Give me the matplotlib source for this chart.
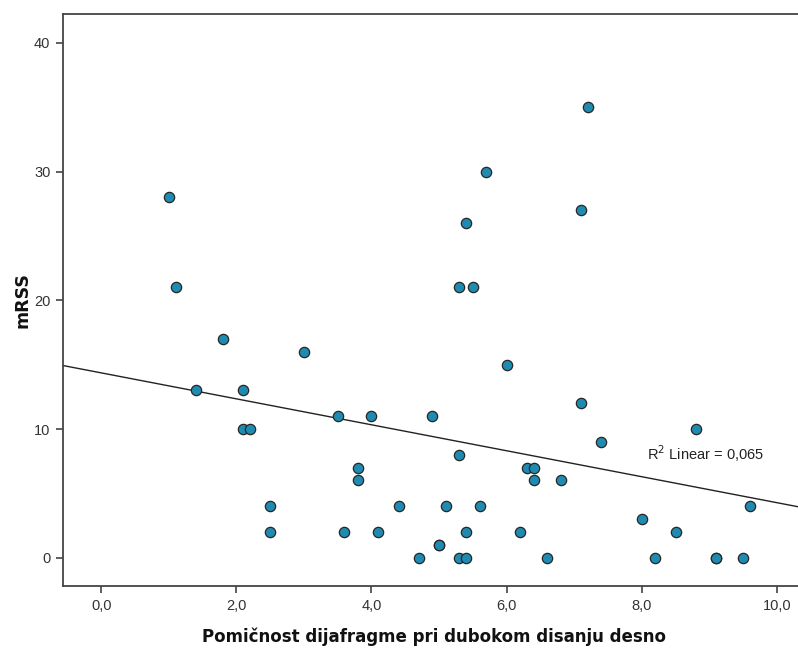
import numpy as np
import matplotlib
matplotlib.use("Agg")
import matplotlib.pyplot as plt

plt.rcParams['font.family'] = ['Liberation Sans', 'DejaVu Sans']

# Pomičnost dijafragme (x) vs mRSS (y)
pomicnost = [1.0, 1.1, 1.4, 1.8, 2.1, 2.1, 2.2, 2.5, 2.5, 3.0,
             3.5, 3.6, 3.8, 3.8, 4.0, 4.1, 4.4, 4.7, 4.9, 5.0,
             5.0, 5.1, 5.3, 5.3, 5.3, 5.4, 5.4, 5.4, 5.5, 5.6,
             5.7, 6.0, 6.2, 6.3, 6.4, 6.4, 6.6, 6.8, 7.1, 7.1,
             7.2, 7.4, 8.0, 8.2, 8.5, 8.8, 9.1, 9.1, 9.5, 9.6]
mrss = [28, 21, 13, 17, 13, 10, 10, 4, 2, 16,
        11, 2, 7, 6, 11, 2, 4, 0, 11, 1,
        1, 4, 21, 8, 0, 26, 2, 0, 21, 4,
        30, 15, 2, 7, 7, 6, 0, 6, 27, 12,
        35, 9, 3, 0, 2, 10, 0, 0, 0, 4]

x_ticks = [0, 2, 4, 6, 8, 10]
x_labels = ["0,0", "2,0", "4,0", "6,0", "8,0", "10,0"]
y_ticks = [0, 10, 20, 30, 40]

x = np.array(pomicnost)
y = np.array(mrss)
slope, intercept = np.polyfit(x, y, 1)

fig = plt.figure(figsize=(7.98, 6.48), dpi=100)
ax = fig.add_axes([63 / 798, 62 / 648, 1 - 63 / 798 + 0.01, 572 / 648])

xlim = (-0.565, 10.43)
ax.set_xlim(xlim)
ax.set_ylim(-2.2, 42.25)

xx = np.array(xlim)
ax.plot(xx, intercept + slope * xx, color="#222222", lw=1.0, zorder=2)

ax.scatter(x, y, s=55, facecolor="#1f8bb0", edgecolor="#262626",
           linewidth=0.9, zorder=3)

ax.text(8.07, 8.05, "R$^2$ Linear = 0,065", fontsize=10.5, color="#222222",
        va="center", ha="left")

ax.set_xticks(x_ticks)
ax.set_xticklabels(x_labels)
ax.set_yticks(y_ticks)
ax.tick_params(axis="both", direction="out", length=5, width=1.2,
               color="#444444", labelsize=10.5, labelcolor="#333333", pad=4)

for side in ["top", "left", "bottom"]:
    ax.spines[side].set_color("#444444")
    ax.spines[side].set_linewidth(1.3)
ax.spines["right"].set_visible(False)

ax.set_xlabel("Pomičnost dijafragme pri dubokom disanju desno",
              fontsize=12, fontweight="bold", color="#111111",
              family="DejaVu Sans")
ax.xaxis.set_label_coords(0.5, -0.072)
ax.set_ylabel("mRSS", fontsize=12.5, fontweight="bold", color="#111111",
              family="DejaVu Sans")
ax.yaxis.set_label_coords(-0.043, 0.5)

fig.savefig("out.png", dpi=100)
